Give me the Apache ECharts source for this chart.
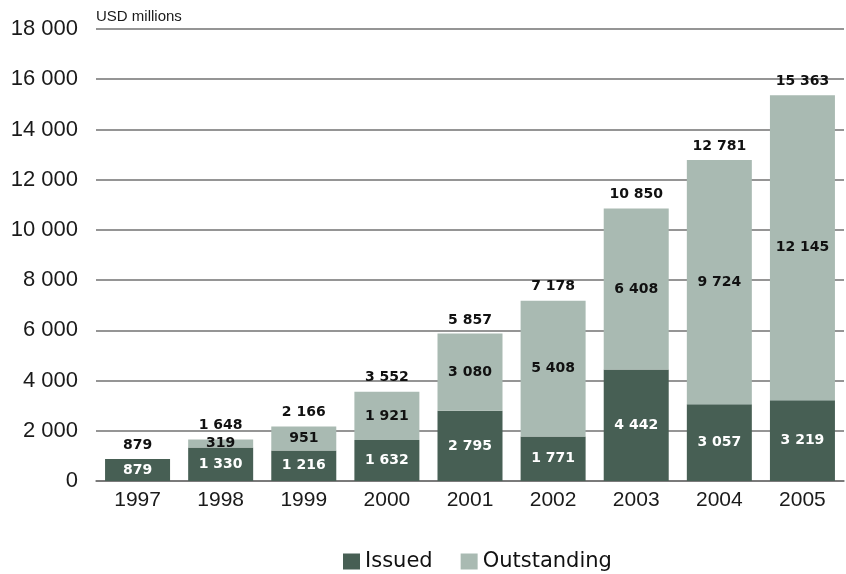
<!DOCTYPE html>
<html>
<head>
<meta charset="utf-8">
<script src="https://cdn.jsdelivr.net/npm/echarts@6/dist/echarts.min.js"></script>
<style>
  html, body { margin: 0; padding: 0; background: #fff; }
  #chart { width: 846px; height: 574px; }
</style>
</head>
<body>
<div id="chart"></div>
<script>
// Bond issuance, USD millions
var years = ['1997', '1998', '1999', '2000', '2001', '2002', '2003', '2004', '2005'];
var issued = [879, 1330, 1216, 1632, 2795, 1771, 4442, 3057, 3219];
var outstanding = [null, 319, 951, 1921, 3080, 5408, 6408, 9724, 12145];
var totals = [879, 1648, 2166, 3552, 5857, 7178, 10850, 12781, 15363];
var yTicks = [0, 2000, 4000, 6000, 8000, 10000, 12000, 14000, 16000, 18000];

var AXIS_FONT = '"Liberation Sans", Arial, sans-serif';
var WIDE_FONT = '"DejaVu Sans", Verdana, sans-serif';

function fmt(v) {
  return String(Math.round(v)).replace(/\B(?=(\d{3})+(?!\d))/g, ' ');
}

var chart = echarts.init(document.getElementById('chart'), null, { renderer: 'canvas' });

chart.setOption({
  animation: false,
  backgroundColor: '#ffffff',
  textStyle: { fontFamily: AXIS_FONT },
  grid: { left: 96, right: 2, top: 29, bottom: 93, containLabel: false },
  graphic: [{
    type: 'text', left: 96, top: 9,
    style: { text: 'USD millions', font: '15px ' + AXIS_FONT, fill: '#1a1a1a' }
  }],
  legend: {
    left: 338, top: 546,
    itemWidth: 17, itemHeight: 16, itemGap: 28,
    icon: 'rect',
    textStyle: { fontSize: 21, color: '#111111', fontFamily: WIDE_FONT, padding: [0, 0, 0, 0] },
    data: ['Issued', 'Outstanding']
  },
  xAxis: {
    type: 'category',
    data: years,
    axisLine: { show: true, lineStyle: { color: '#727272', width: 1.5 } },
    axisTick: { show: false },
    axisLabel: { color: '#1a1a1a', fontSize: 21, margin: 9, fontFamily: AXIS_FONT }
  },
  yAxis: {
    type: 'value',
    min: yTicks[0],
    max: yTicks[yTicks.length - 1],
    interval: 2000,
    axisLine: { show: false },
    axisTick: { show: false },
    splitLine: { lineStyle: { color: '#727272', width: 1.5 } },
    axisLabel: {
      color: '#1a1a1a', fontSize: 22, margin: 18, fontFamily: AXIS_FONT,
      padding: [4, 0, 0, 0], formatter: fmt
    }
  },
  series: [
    {
      name: 'Issued', type: 'bar', stack: 'total', barWidth: 65,
      itemStyle: { color: '#475f54' },
      label: {
        show: true, position: 'inside', color: '#ffffff',
        fontSize: 14, fontWeight: 'bold', fontFamily: WIDE_FONT,
        formatter: function (p) { return fmt(p.value); }
      },
      data: issued
    },
    {
      name: 'Outstanding', type: 'bar', stack: 'total', barWidth: 65,
      itemStyle: { color: '#a9bab2' },
      label: {
        show: true, position: 'inside', color: '#111111',
        fontSize: 14, fontWeight: 'bold', fontFamily: WIDE_FONT,
        formatter: function (p) { return p.value == null ? '' : fmt(p.value); }
      },
      data: outstanding
    },
    {
      name: 'Total', type: 'scatter', symbolSize: 0, silent: true,
      itemStyle: { opacity: 1 },
      label: {
        show: true, position: 'top', distance: 7, color: '#111111', opacity: 1,
        fontSize: 14, fontWeight: 'bold', fontFamily: WIDE_FONT,
        formatter: function (p) { return fmt(p.value); }
      },
      data: totals,
      z: 5
    }
  ]
});
</script>
</body>
</html>
